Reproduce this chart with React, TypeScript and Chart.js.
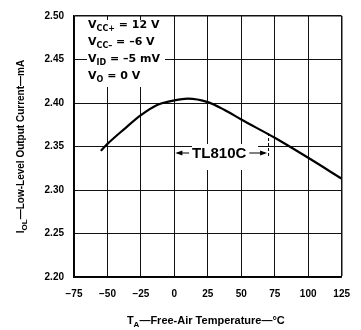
import React, { useEffect, useRef } from "react";
import { Chart, registerables } from "chart.js";

Chart.register(...registerables);

// ---- data ----
const temperatures = [-55, -50, -37.5, -25, -12.5, 0, 10, 25, 37.5, 50, 75, 100, 125];
const lowLevelCurrent = [2.345, 2.353, 2.37, 2.386, 2.398, 2.403, 2.405, 2.401, 2.392, 2.381, 2.36, 2.337, 2.313];
const xTickValues = [-75, -50, -25, 0, 25, 50, 75, 100, 125];
const yTickValues = [2.2, 2.25, 2.3, 2.35, 2.4, 2.45, 2.5];
const deviceLabel = "TL810C";
const deviceRange = [0, 70];

type Part = { t: string; sub?: boolean };
const conditionLines: Part[][] = [
  [{ t: "V" }, { t: "CC+", sub: true }, { t: " = 12 V" }],
  [{ t: "V" }, { t: "CC\u2013", sub: true }, { t: " = \u20136 V" }],
  [{ t: "V" }, { t: "ID", sub: true }, { t: " = \u20135 mV" }],
  [{ t: "V" }, { t: "O", sub: true }, { t: " = 0 V" }],
];
const xTitle: Part[] = [{ t: "T" }, { t: "A", sub: true }, { t: "\u2014Free-Air Temperature\u2014\u00B0C" }];
const yTitle: Part[] = [{ t: "I" }, { t: "OL", sub: true }, { t: "\u2014Low-Level Output Current\u2014mA" }];

const FONT = "'Liberation Sans', Arial, Helvetica, sans-serif";
const FONT2 = "'DejaVu Sans', 'Liberation Sans', sans-serif";

function drawRich(
  ctx: CanvasRenderingContext2D,
  parts: Part[],
  x: number,
  y: number,
  size: number,
  subSize: number,
  family: string,
  align: "left" | "center"
) {
  ctx.textAlign = "left";
  ctx.textBaseline = "alphabetic";
  let w = 0;
  for (const p of parts) {
    ctx.font = `bold ${p.sub ? subSize : size}px ${family}`;
    w += ctx.measureText(p.t).width;
  }
  let cx = align === "center" ? x - w / 2 : x;
  for (const p of parts) {
    ctx.font = `bold ${p.sub ? subSize : size}px ${family}`;
    ctx.fillText(p.t, cx, p.sub ? y + subSize * 0.38 : y);
    cx += ctx.measureText(p.t).width;
  }
}

function arrowHead(ctx: CanvasRenderingContext2D, tipX: number, y: number, dir: number) {
  ctx.beginPath();
  ctx.moveTo(tipX, y);
  ctx.lineTo(tipX - dir * 7, y - 2.5);
  ctx.lineTo(tipX - dir * 7, y + 2.5);
  ctx.closePath();
  ctx.fill();
}

const annotationPlugin = {
  id: "annotationPlugin",
  beforeDatasetsDraw(chart: any) {
    const { ctx, chartArea: a, scales } = chart;
    const xs = scales.x;
    ctx.save();
    // white boxes behind the labels (hide grid lines)
    ctx.fillStyle = "#fff";
    ctx.fillRect(a.left + 13, a.top + 4, 78, 67);
    ctx.fillRect(a.left + 118, a.top + 128, 66, 26);

    ctx.fillStyle = "#000";
    const baselines = [28, 45, 62, 79];
    conditionLines.forEach((line, i) => {
      drawRich(ctx, line, a.left + 14, baselines[i], 11, 8, FONT2, "left");
    });

    // device range annotation
    const x0 = xs.getPixelForValue(deviceRange[0]);
    const x1 = xs.getPixelForValue(deviceRange[1]);
    const ly = 153;
    const cx = (x0 + x1) / 2 - 2;
    ctx.font = `bold 15px ${FONT}`;
    ctx.textAlign = "center";
    ctx.textBaseline = "middle";
    const tw = ctx.measureText(deviceLabel).width;
    ctx.fillText(deviceLabel, cx, ly + 1);
    ctx.strokeStyle = "#000";
    ctx.lineWidth = 1.2;
    ctx.beginPath();
    ctx.moveTo(cx - tw / 2 - 3, ly);
    ctx.lineTo(x0 + 3, ly);
    ctx.moveTo(cx + tw / 2 + 3, ly);
    ctx.lineTo(x1 - 3, ly);
    ctx.stroke();
    arrowHead(ctx, x0 + 1, ly, -1);
    arrowHead(ctx, x1 - 1, ly, 1);
    ctx.lineWidth = 1;
    ctx.setLineDash([3, 2]);
    ctx.beginPath();
    ctx.moveTo(x1 + 0.5, ly - 20);
    ctx.lineTo(x1 + 0.5, ly + 4);
    ctx.stroke();
    ctx.restore();
  },
  afterDraw(chart: any) {
    const { ctx, chartArea: a } = chart;
    ctx.save();
    ctx.fillStyle = "#000";
    drawRich(ctx, xTitle, (a.left + a.right) / 2 - 2, 324, 11, 8, FONT, "center");
    ctx.translate(24, (a.top + a.bottom) / 2);
    ctx.rotate(-Math.PI / 2);
    drawRich(ctx, yTitle, 0, 0, 10, 8, FONT, "center");
    ctx.restore();
  },
};

export default function App() {
  const ref = useRef<HTMLCanvasElement>(null);
  useEffect(() => {
    if (!ref.current) return;
    const points = temperatures.map((t, i) => ({ x: t, y: lowLevelCurrent[i] }));
    const lastX = xTickValues.length - 1;
    const lastY = yTickValues.length - 1;
    const chart = new Chart(ref.current, {
      type: "scatter",
      data: {
        datasets: [
          {
            data: points,
            showLine: true,
            borderColor: "#000",
            borderWidth: 2.2,
            pointRadius: 0,
            cubicInterpolationMode: "monotone",
            fill: false,
          },
        ],
      },
      options: {
        responsive: false,
        animation: false,
        events: [],
        layout: { padding: { top: 11, right: 12, left: 0, bottom: 0 } },
        plugins: { legend: { display: false }, tooltip: { enabled: false }, title: { display: false } },
        scales: {
          x: {
            type: "linear",
            min: xTickValues[0],
            max: xTickValues[lastX],
            afterBuildTicks: (s: any) => {
              s.ticks = xTickValues.map((v) => ({ value: v }));
            },
            afterFit: (s: any) => {
              s.height = 53;
            },
            ticks: {
              padding: 11,
              color: "#000",
              font: { family: FONT, size: 10, weight: "bold" },
              maxRotation: 0,
              callback: (v: any) => (Number(v) < 0 ? "\u2212" + Math.abs(Number(v)) : String(v)),
            },
            grid: {
              color: "#111",
              lineWidth: (c: any) => (c.index === lastX ? 1.5 : 1),
              drawTicks: false,
            },
            border: { display: true, color: "#000", width: 1.5 },
          },
          y: {
            type: "linear",
            min: yTickValues[0],
            max: yTickValues[lastY],
            afterBuildTicks: (s: any) => {
              s.ticks = yTickValues.map((v) => ({ value: v }));
            },
            afterFit: (s: any) => {
              s.width = 74;
            },
            ticks: {
              padding: 10,
              color: "#000",
              font: { family: FONT, size: 10, weight: "bold" },
              callback: (v: any) => Number(v).toFixed(2),
            },
            grid: {
              color: "#111",
              lineWidth: (c: any) => (c.index === lastY ? 1.5 : 1),
              drawTicks: false,
            },
            border: { display: true, color: "#000", width: 1.5 },
          },
        },
      },
      plugins: [annotationPlugin],
    } as any);
    return () => chart.destroy();
  }, []);
  return (
    <div style={{ position: "absolute", left: 0, top: 0, width: 361, height: 330, background: "#fff" }}>
      <canvas ref={ref} width={361} height={330} style={{ display: "block" }} />
    </div>
  );
}
